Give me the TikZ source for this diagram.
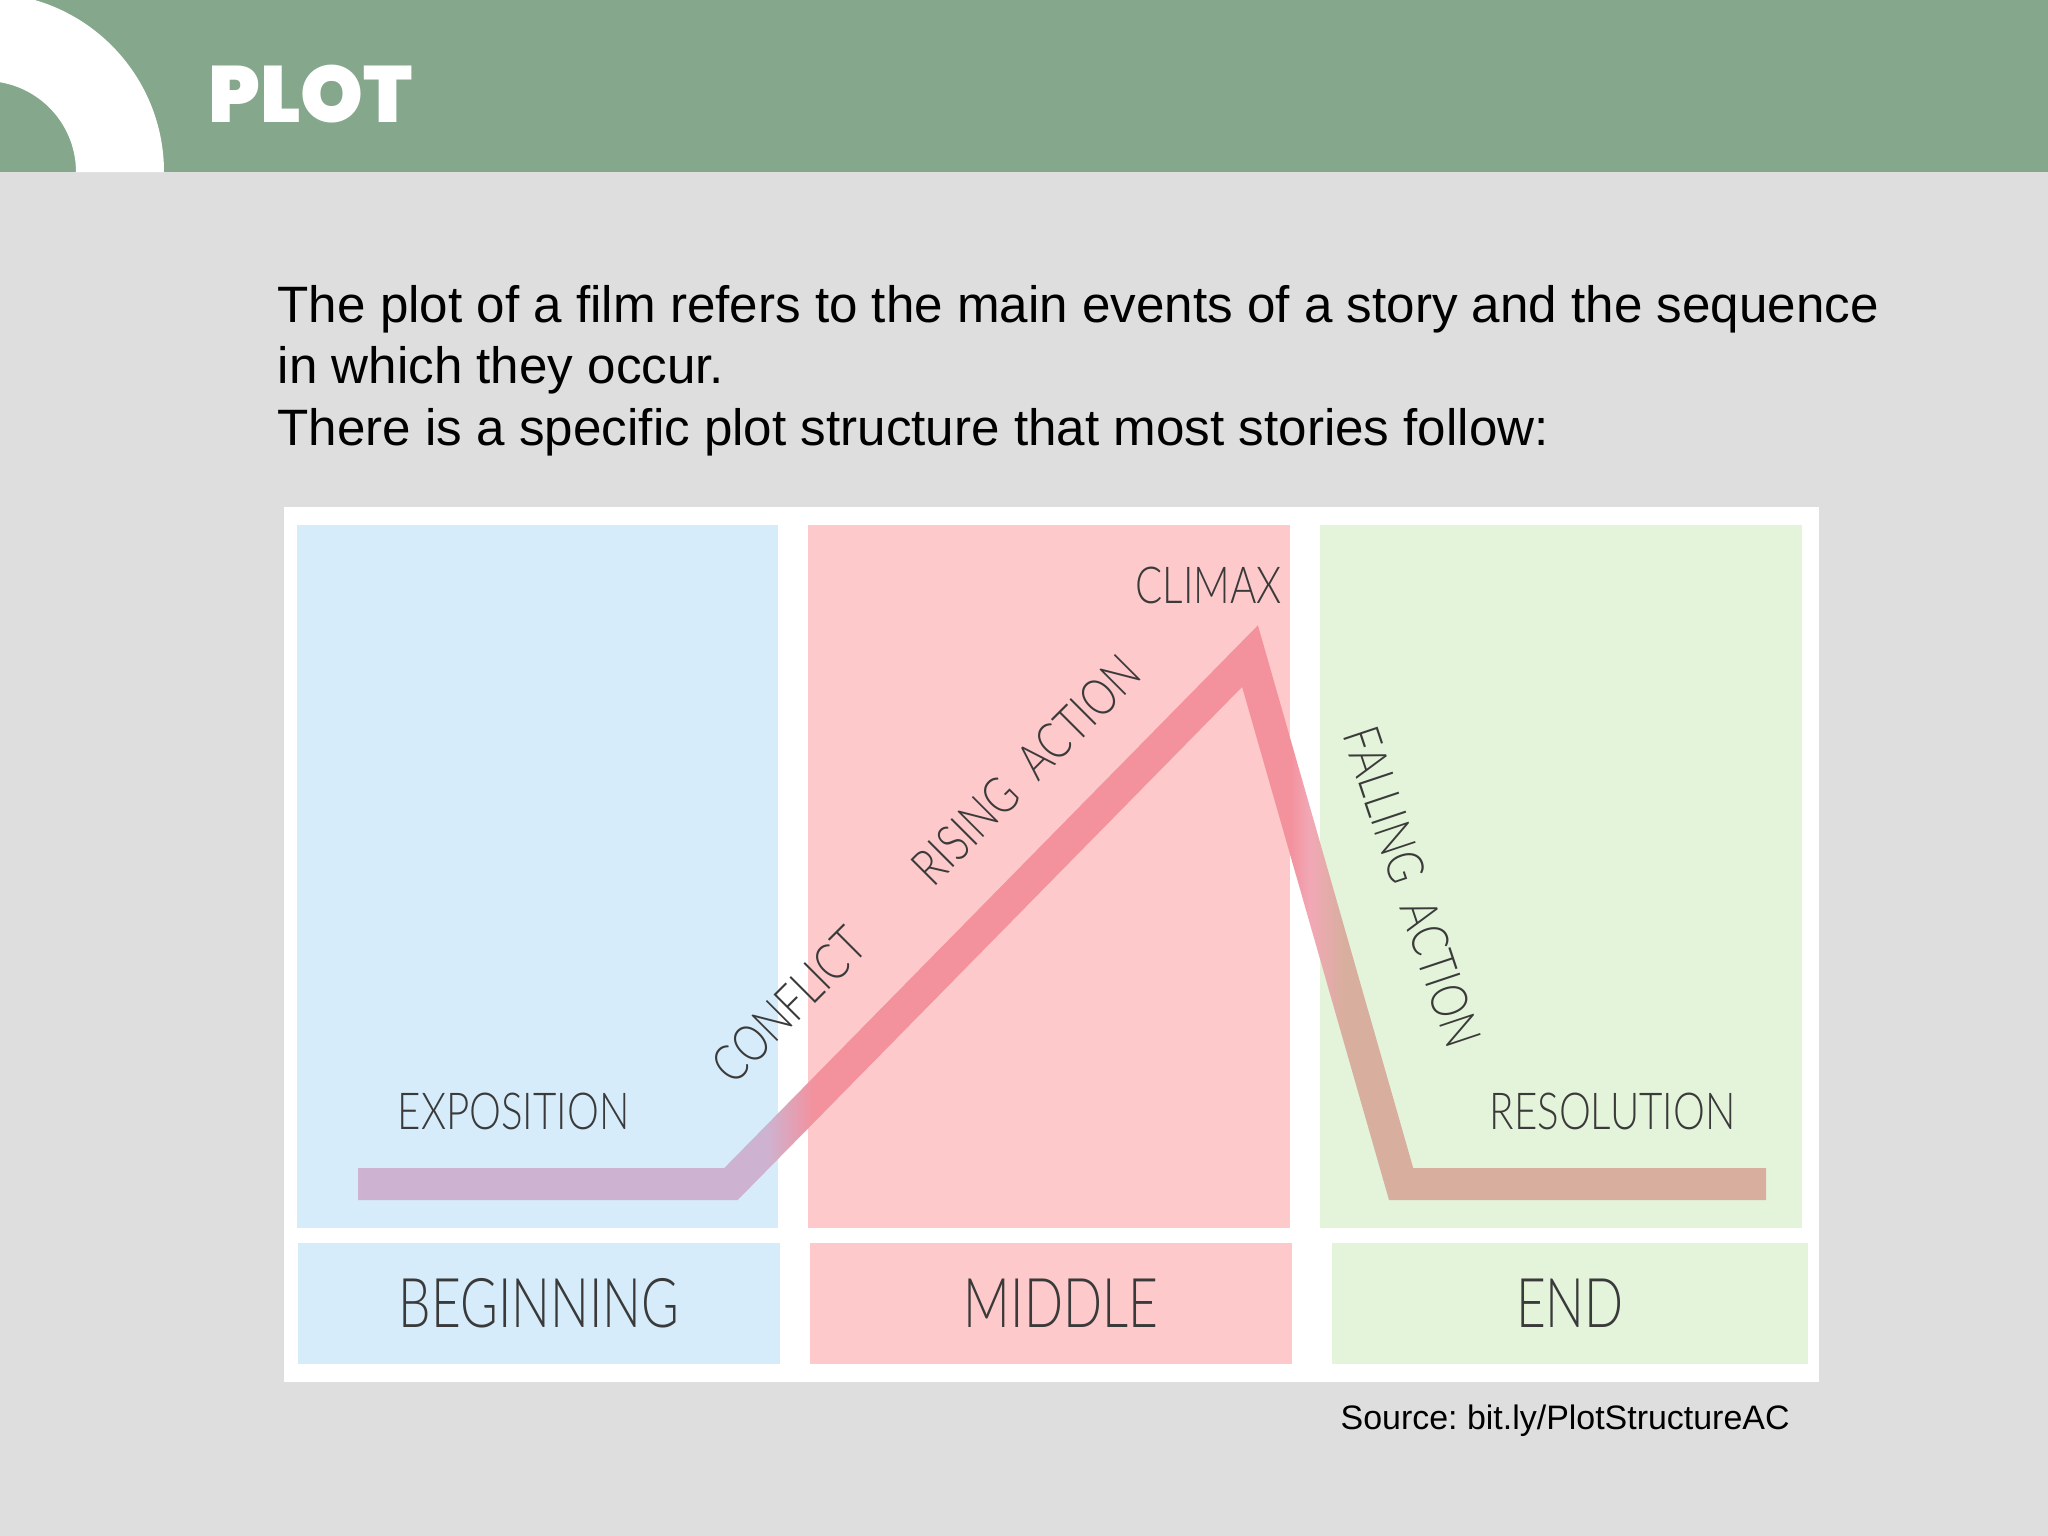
\documentclass[tikz,border=0pt]{standalone}
\usepackage{fontspec}
\setmainfont{Liberation Sans}
\newfontfamily\titlefont{Poppins}[UprightFont={* Black}]
\newfontfamily\lblfont{Lato}[UprightFont={* Light}]
\usepackage{graphicx}
\usetikzlibrary{shadings}

\definecolor{slidegray}{RGB}{222,222,222}
\definecolor{headgreen}{RGB}{133,167,140}
\definecolor{begblue}{RGB}{214,236,250}
\definecolor{midpink}{RGB}{254,201,202}
\definecolor{endgreen}{RGB}{228,244,218}
\definecolor{lineLav}{RGB}{205,179,209}
\definecolor{linePink}{RGB}{243,145,157}
\definecolor{lineLight}{RGB}{242,168,182}
\definecolor{lineTan}{RGB}{216,174,158}
\definecolor{lbltext}{RGB}{58,58,58}

\pgfdeclarehorizontalshading{plotline}{100bp}{color(0bp)=(lineLav); color(39.5bp)=(lineLav); color(41.2bp)=(linePink); color(58.1bp)=(linePink); color(58.8bp)=(lineLight); color(60bp)=(lineTan); color(100bp)=(lineTan)}

\newcommand{\lbl}[2][0.79]{\scalebox{#1}[1]{#2}}

\tikzset{
  stage/.style={font=\lblfont\fontsize{14.5}{16}\selectfont, text=lbltext, inner sep=0pt},
  part/.style={fill=#1, minimum height=1.21cm, inner sep=0pt,
    font=\lblfont\fontsize{19.5}{22}\selectfont, text=lbltext},
  intro/.style={anchor=base west, inner sep=0pt, font=\fontsize{14.55}{17}\selectfont}
}

\begin{document}
\frenchspacing
\begin{tikzpicture}[x=0.01cm,y=-0.01cm]
\useasboundingbox (0,0) rectangle (2048,1536);
\fill[slidegray] (0,0) rectangle (2048,1536);

% header
\fill[headgreen] (0,0) rectangle (2048,172);
\begin{scope}
\clip (0,0) rectangle (2048,172);
\fill[white] (164,172) arc[start angle=0, end angle=-90, radius=179] -- (-15,81)
  arc[start angle=-90, end angle=0, radius=91] -- cycle;
\end{scope}
\node[anchor=base west, inner sep=0pt, text=white,
  font=\titlefont\fontsize{22.7}{25}\selectfont] (title) at (208,122) {PLOT};

\node[intro] (intro1) at (277,322) {The plot of a film refers to the main events of a story and the sequence};
\node[intro] (intro2) at (277,383.5) {in which they occur.};
\node[intro] (intro3) at (277,445) {There is a specific plot structure that most stories follow:};

% diagram
\fill[white] (284,507) rectangle (1819,1382);
\fill[begblue] (297,525) rectangle (778,1228);
\fill[midpink] (808,525) rectangle (1290,1228);
\fill[endgreen] (1320,525) rectangle (1802,1228);

\shade[shading=plotline] (358,1168) -- (724.3,1168) -- (1257.9,625.3) -- (1413.2,1168)
  -- (1766,1168) -- (1766,1200) -- (1389,1200) -- (1242.1,686.9) -- (737.7,1200)
  -- (358,1200) -- cycle;

\node[stage, anchor=base west] (expo) at (397,1129) {\lbl{EXPOSITION}};
\node[stage, rotate=45] (conflict) at (789,1005) {\lbl{CONFLICT}};
\node[stage, rotate=45] (rising) at (1026,770) {\lbl{RISING\ \ ACTION}};
\node[stage, anchor=base west] (climax) at (1135,603) {\lbl{CLIMAX}};
\node[stage, rotate=-71.5] (falling) at (1412,887) {\lbl[0.8]{FALLING\ \ ACTION}};
\node[stage, anchor=base west] (reso) at (1489,1129) {\lbl{RESOLUTION}};

\node[part=begblue, minimum width=4.81cm] (begin) at (539,1303.5) {\lbl[0.75]{BEGINNING}};
\node[part=midpink, minimum width=4.82cm] (middle) at (1051,1303.5) {\hspace*{0.2cm}\lbl[0.75]{MIDDLE}};
\node[part=endgreen, minimum width=4.76cm] (finish) at (1570,1303.5) {\lbl[0.75]{END}};

\node[anchor=base west, inner sep=0pt, font=\fontsize{9.65}{11}\selectfont] (source)
  at (1340,1429) {Source: bit.ly/PlotStructureAC};
\end{tikzpicture}
\end{document}
